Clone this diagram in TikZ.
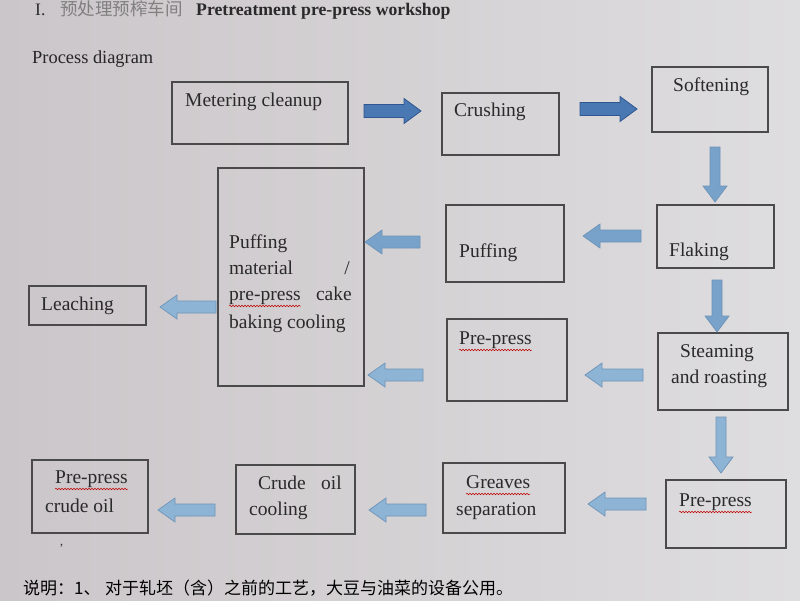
\documentclass[tikz,border=0pt]{standalone}
\usepackage{fontspec}
\setmainfont{Liberation Serif}
\newfontfamily\cjk{Noto Sans CJK SC}
\usetikzlibrary{decorations.pathmorphing}
\definecolor{bgl}{HTML}{CBC6C9}
\definecolor{bgr}{HTML}{DEDDDF}
\definecolor{boxline}{HTML}{4A4A4A}
\definecolor{txt}{HTML}{2A2A2A}
\definecolor{arrdark}{HTML}{4A78B3}
\definecolor{arrdarkline}{HTML}{2F5690}
\definecolor{arrlight}{HTML}{8DB3D5}
\definecolor{arrlightline}{HTML}{6E94B8}
\definecolor{arrmid}{HTML}{78A2C9}
\newcommand\rblock[4]{\path[#1] (#2,#4-6.5) -- (#3-17,#4-6.5) -- (#3-17,#4-12.5) -- (#3,#4) -- (#3-17,#4+12.5) -- (#3-17,#4+6.5) -- (#2,#4+6.5) -- cycle;}
\newcommand\lblock[4]{\path[#1] (#2,#4-6) -- (#3+17,#4-6) -- (#3+17,#4-12) -- (#3,#4) -- (#3+17,#4+12) -- (#3+17,#4+6) -- (#2,#4+6) -- cycle;}
\newcommand\dblock[4]{\path[#1] (#2-5,#3) -- (#2-5,#4-16) -- (#2-12,#4-16) -- (#2,#4) -- (#2+12,#4-16) -- (#2+5,#4-16) -- (#2+5,#3) -- cycle;}
\begin{document}
\begin{tikzpicture}[x=1pt,y=-1pt,
  box/.style={draw=boxline, line width=1.1pt, anchor=north west, inner sep=0pt, outer sep=0pt},
  lbl/.style={anchor=base west, inner sep=0pt, font=\fontsize{19.5}{22}\selectfont, text=txt},
  lble/.style={lbl, anchor=base east},
  wavy/.style={draw=red!75!black, line width=0.5pt, decorate, decoration={snake, amplitude=0.8pt, segment length=3pt}},
  darkarrow/.style={fill=arrdark, draw=arrdarkline, line width=0.8pt},
  lightarrow/.style={fill=arrlight, draw=arrlightline, line width=0.7pt},
  midarrow/.style={fill=arrmid, draw=arrlightline, line width=0.7pt}]
\useasboundingbox (0,0) rectangle (800,600);
\shade[left color=bgl, right color=bgr] (0,0) rectangle (800,600);

% header
\node[lbl, font=\fontsize{17.5}{20}\selectfont] (hI) at (35,15) {I.};
\node[lbl, font=\fontsize{17.5}{20}\selectfont\cjk, text=gray] (hcn) at (60,15) {预处理预榨车间};
\node[lbl, font=\fontsize{17.7}{20}\selectfont\bfseries] (hen) at (196,15) {Pretreatment pre-press workshop};
\node[lbl, font=\fontsize{18.4}{20}\selectfont, text=black!85] (pd) at (32,63) {Process diagram};

% boxes
\node[box, minimum width=176pt, minimum height=62pt] (meter) at (172,82) {};
\node[box, minimum width=117pt, minimum height=62pt] (crush) at (442,93) {};
\node[box, minimum width=116pt, minimum height=65pt] (soft) at (652,67) {};
\node[box, minimum width=117pt, minimum height=63pt] (flake) at (657,205) {};
\node[box, minimum width=118pt, minimum height=77pt] (puff) at (446,205) {};
\node[box, minimum width=146pt, minimum height=218pt] (big) at (218,168) {};
\node[box, minimum width=117pt, minimum height=39pt] (leach) at (29,286) {};
\node[box, minimum width=120pt, minimum height=82pt] (pp1) at (447,319) {};
\node[box, minimum width=130pt, minimum height=77pt] (steam) at (658,333) {};
\node[box, minimum width=120pt, minimum height=68pt] (pp2) at (666,480) {};
\node[box, minimum width=122pt, minimum height=70pt] (greave) at (443,463) {};
\node[box, minimum width=119pt, minimum height=69pt] (cool) at (236,465) {};
\node[box, minimum width=116pt, minimum height=73pt] (ppoil) at (32,460) {};

% labels
\node[lbl] (tmeter) at (185,106) {Metering cleanup};
\node[lbl] (tcrush) at (454,116) {Crushing};
\node[lbl] (tsoft) at (673,91) {Softening};
\node[lbl] (tflake) at (669,256) {Flaking};
\node[lbl] (tpuff) at (459,257) {Puffing};
\node[lbl] (tb1) at (229,248) {Puffing};
\node[lbl] (tb2) at (229,274) {material};
\node[lble] (tb2r) at (350,274) {/};
\node[lbl] (tb3) at (229,300) {pre-press};
\node[lble] (tb3r) at (352,300) {cake};
\node[lbl] (tb4) at (229,328) {baking cooling};
\node[lbl] (tleach) at (41,310) {Leaching};
\node[lbl] (tpp1) at (459,344) {Pre-press};
\node[lbl] (tst1) at (680,357) {Steaming};
\node[lbl] (tst2) at (671,383) {and roasting};
\node[lbl] (tpp2) at (679,506) {Pre-press};
\node[lbl] (tgr1) at (466,488) {Greaves};
\node[lbl] (tgr2) at (456,515) {separation};
\node[lbl] (tco1) at (258,489) {Crude};
\node[lble] (tco2) at (342,489) {oil};
\node[lbl] (tco3) at (249,515) {cooling};
\node[lbl] (tpo1) at (55,483) {Pre-press};
\node[lbl] (tpo2) at (45,512) {crude oil};
\node[lbl, font=\fontsize{12}{14}\selectfont] (comma) at (60,545) {,};

% spell-check underlines
\foreach \t in {tb3,tpp1,tpp2,tgr1,tpo1}
  \draw[wavy] ([yshift=-6pt]\t.base west) -- ([yshift=-6pt]\t.base east);

% block arrows
\rblock{darkarrow}{364}{421}{111}
\rblock{darkarrow}{580}{637}{109}
\dblock{midarrow}{715}{147}{202}
\dblock{midarrow}{717}{280}{332}
\dblock{lightarrow}{721}{417}{473}
\lblock{midarrow}{641}{583}{236}
\lblock{midarrow}{420}{365}{242}
\lblock{lightarrow}{643}{585}{375}
\lblock{lightarrow}{423}{368}{375}
\lblock{lightarrow}{216}{160}{307}
\lblock{lightarrow}{646}{588}{504}
\lblock{lightarrow}{426}{369}{510}
\lblock{lightarrow}{215}{158}{510}

% footer
\node[lbl, font=\fontsize{17}{20}\selectfont\cjk, text=black] (fn1) at (23,594) {说明：1、};
\node[lbl, font=\fontsize{17}{20}\selectfont\cjk, text=black] (fn2) at (105,594) {对于轧坯（含）之前的工艺，大豆与油菜的设备公用。};
\end{tikzpicture}
\end{document}
